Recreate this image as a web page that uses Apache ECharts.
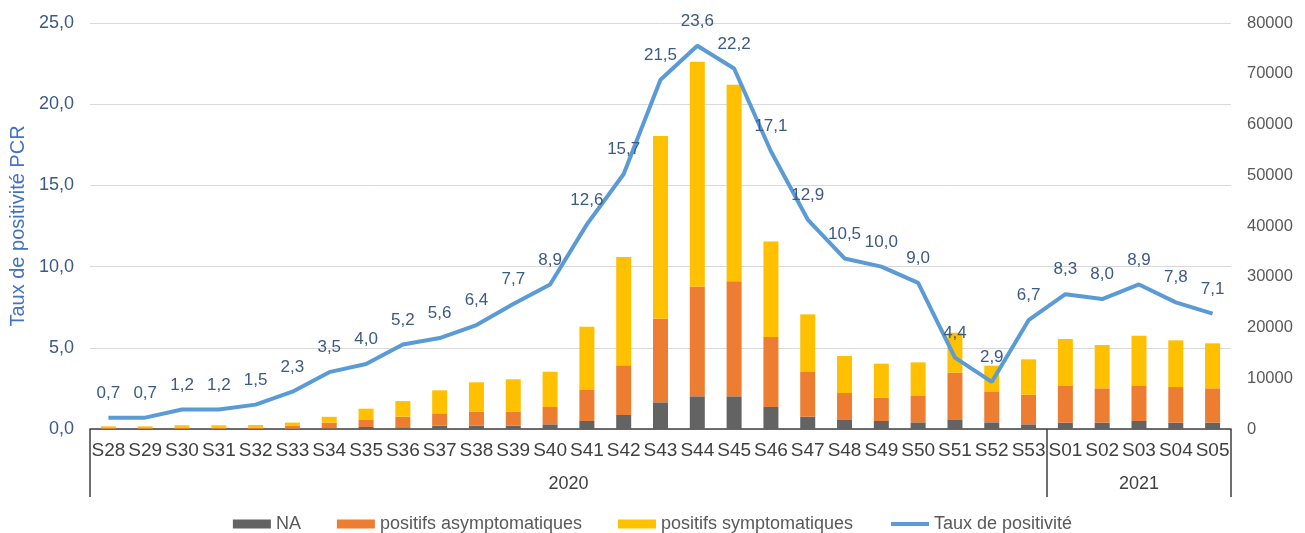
<!DOCTYPE html>
<html>
<head>
<meta charset="utf-8">
<script src="https://cdn.jsdelivr.net/npm/echarts@6/dist/echarts.min.js"></script>
<style>
  html, body { margin: 0; padding: 0; background: #fff; }
  #chart { width: 1305px; height: 533px; }
</style>
</head>
<body>
<div id="chart"></div>
<script>
// semaines
const weeks = ['S28', 'S29', 'S30', 'S31', 'S32', 'S33', 'S34', 'S35', 'S36', 'S37', 'S38', 'S39', 'S40',
  'S41', 'S42', 'S43', 'S44', 'S45', 'S46', 'S47', 'S48', 'S49', 'S50', 'S51', 'S52', 'S53',
  'S01', 'S02', 'S03', 'S04', 'S05']
const years = ['2020', '2021']
// nombre de tests positifs
const naData = [20, 20, 30, 30, 30, 60, 150, 400, 330, 660, 660, 660, 920,
  1580, 2760, 5260, 6440, 6440, 4330, 2430, 1900, 1580, 1310, 1900, 1310, 920,
  1250, 1250, 1580, 1250, 1250]
const asymData = [150, 150, 250, 250, 250, 600, 1100, 1500, 2100, 2430, 2750, 2750, 3410,
  6100, 9790, 16470, 21660, 22650, 13790, 8930, 5190, 4590, 5190, 9200, 6110, 5840,
  7350, 6760, 7020, 7020, 6760]
const symData = [350, 350, 450, 450, 500, 600, 1150, 2100, 3070, 4530, 5790, 6380, 6960,
  12470, 21330, 35990, 44260, 38740, 18850, 11230, 7290, 6700, 6630, 7880, 5060, 6970,
  9130, 8540, 9780, 9200, 8870]
// taux de positivité (%)
const tauxData = [0.7, 0.7, 1.2, 1.2, 1.5, 2.3, 3.5, 4.0, 5.2, 5.6, 6.4, 7.7, 8.9,
  12.6, 15.7, 21.5, 23.6, 22.2, 17.1, 12.9, 10.5, 10.0, 9.0, 4.4, 2.9, 6.7,
  8.3, 8.0, 8.9, 7.8, 7.1]

const font = '"Liberation Sans", Arial, sans-serif'
const comma = v => v.toFixed(1).replace('.', ',')

const myChart = echarts.init(document.getElementById('chart'))
const option = {
  animation: false,
  textStyle: { fontFamily: font },
  grid: { left: 90, right: 74, top: 23, bottom: 104 },
  legend: {
    top: 510,
    left: 'center',
    itemWidth: 38,
    itemHeight: 9,
    itemGap: 36,
    textStyle: { fontSize: 18, color: '#595959', fontFamily: font },
    data: [
      { name: 'NA', icon: 'rect' },
      { name: 'positifs asymptomatiques', icon: 'rect' },
      { name: 'positifs symptomatiques', icon: 'rect' },
      { name: 'Taux de positivité', itemStyle: { opacity: 0 }, lineStyle: { width: 4 } }
    ]
  },
  xAxis: [
    {
      type: 'category',
      data: weeks,
      axisLine: { lineStyle: { color: '#404040', width: 1.5 } },
      axisTick: { show: false },
      axisLabel: { interval: 0, fontSize: 19, color: '#404040', margin: 12, fontFamily: font }
    },
    {
      type: 'value',
      min: 0,
      max: weeks.length,
      position: 'bottom',
      splitLine: { show: false },
      axisLine: { show: false },
      axisTick: {
        show: true,
        customValues: [0, 26, 31],
        length: 68,
        lineStyle: { color: '#404040', width: 1.5 }
      },
      axisLabel: {
        customValues: [13, 28.5],
        formatter: v => (v < 26 ? years[0] : years[1]),
        fontSize: 18,
        color: '#404040',
        margin: 46,
        fontFamily: font
      }
    }
  ],
  yAxis: [
    {
      type: 'value',
      min: 0,
      max: 25,
      interval: 5,
      name: 'Taux de positivité PCR',
      nameLocation: 'middle',
      nameGap: 62,
      nameTextStyle: { fontSize: 20, color: '#4472C4', fontFamily: font },
      axisLine: { show: false },
      axisTick: { show: false },
      axisLabel: { formatter: comma, fontSize: 18, color: '#3B5A85', margin: 16, fontFamily: font },
      splitLine: { lineStyle: { color: '#D9D9D9', width: 1 } }
    },
    {
      type: 'value',
      min: 0,
      max: 80000,
      interval: 10000,
      axisLine: { show: false },
      axisTick: { show: false },
      axisLabel: { formatter: v => String(v), fontSize: 16.5, color: '#595959', margin: 16, fontFamily: font },
      splitLine: { show: false }
    }
  ],
  series: [
    {
      name: 'NA',
      type: 'bar',
      stack: 'tests',
      yAxisIndex: 1,
      barWidth: 15,
      itemStyle: { color: '#636363' },
      data: naData
    },
    {
      name: 'positifs asymptomatiques',
      type: 'bar',
      stack: 'tests',
      yAxisIndex: 1,
      barWidth: 15,
      itemStyle: { color: '#ED7D31' },
      data: asymData
    },
    {
      name: 'positifs symptomatiques',
      type: 'bar',
      stack: 'tests',
      yAxisIndex: 1,
      barWidth: 15,
      itemStyle: { color: '#FFC000' },
      data: symData
    },
    {
      name: 'Taux de positivité',
      type: 'line',
      yAxisIndex: 0,
      symbol: 'circle',
      symbolSize: 0.1,
      showSymbol: true,
      lineStyle: { color: '#5B9BD5', width: 4 },
      itemStyle: { color: '#5B9BD5' },
      z: 5,
      labelLayout: { hideOverlap: false },
      label: {
        show: true,
        position: 'top',
        distance: 16,
        fontSize: 17,
        color: '#3B5A85',
        fontFamily: font,
        formatter: p => comma(p.value)
      },
      data: tauxData
    }
  ]
}
option && myChart.setOption(option)
</script>
</body>
</html>
